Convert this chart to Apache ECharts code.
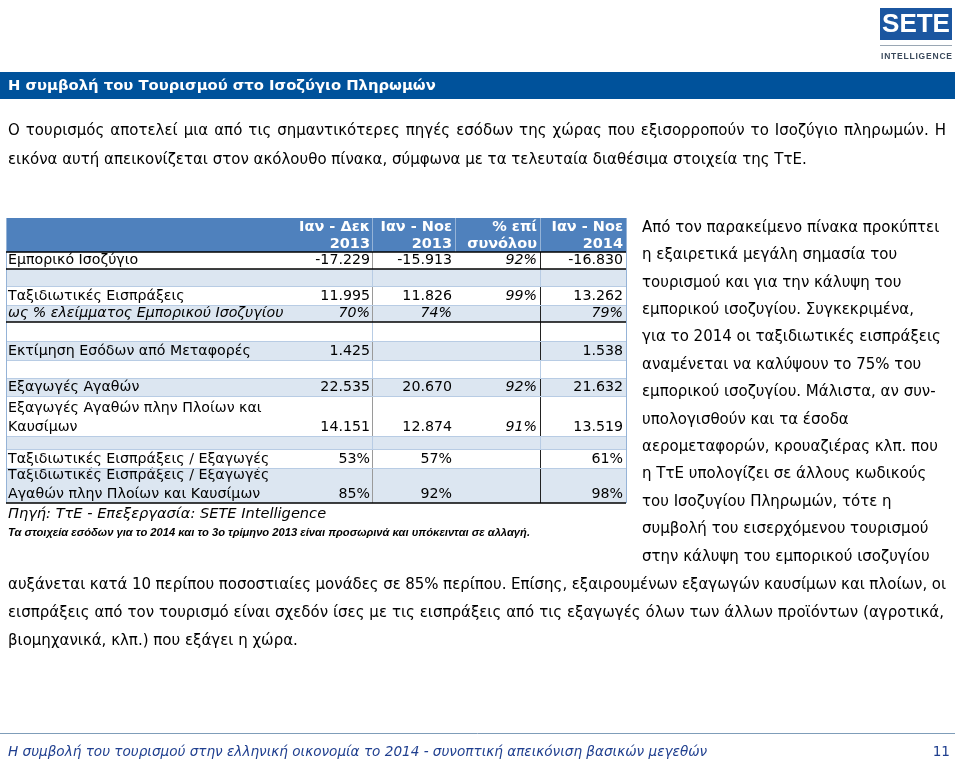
<!DOCTYPE html>
<html>
<head>
<meta charset="utf-8">
<script src="https://cdn.jsdelivr.net/npm/echarts@6/dist/echarts.min.js"></script>
<style>
  html, body { margin: 0; padding: 0; background: #fff; }
  #page { width: 960px; height: 765px; }
</style>
</head>
<body>
<div id="page"></div>
<script>
// table data (εκατ. ευρώ / ποσοστά)
var rowLabels = [
  'Εμπορικό Ισοζύγιο',
  '',
  'Ταξιδιωτικές Εισπράξεις',
  'ως % ελείμματος Εμπορικού Ισοζυγίου',
  '',
  'Εκτίμηση Εσόδων από Μεταφορές',
  '',
  'Εξαγωγές Αγαθών',
  'Εξαγωγές Αγαθών πλην Πλοίων και\nΚαυσίμων',
  '',
  'Ταξιδιωτικές Εισπράξεις / Εξαγωγές',
  'Ταξιδιωτικές Εισπράξεις / Εξαγωγές\nΑγαθών πλην Πλοίων και Καυσίμων'
];
var colHeaders = [['Ιαν - Δεκ', '2013'], ['Ιαν - Νοε', '2013'], ['% επί', 'συνόλου'], ['Ιαν - Νοε', '2014']];
var janDec2013 = [-17229, null, 11995, 70, null, 1425, null, 22535, 14151, null, 53, 85];
var janNov2013 = [-15913, null, 11826, 74, null, null, null, 20670, 12874, null, 57, 92];
var shareOfTotal = [92, null, 99, null, null, null, null, 92, 91, null, null, null];
var janNov2014 = [-16830, null, 13262, 79, null, 1538, null, 21632, 13519, null, 61, 98];
var percentRows = [3, 10, 11];

var introLines = [
  'Ο τουρισμός αποτελεί μια από τις σημαντικότερες πηγές εσόδων της χώρας που εξισορροπούν το Ισοζύγιο πληρωμών. Η',
  'εικόνα αυτή απεικονίζεται στον ακόλουθο πίνακα, σύμφωνα με τα τελευταία διαθέσιμα στοιχεία της ΤτΕ.'
];
var sideLines = [
  'Από τον παρακείμενο πίνακα προκύπτει',
  'η εξαιρετικά μεγάλη σημασία του',
  'τουρισμού και για την κάλυψη του',
  'εμπορικού ισοζυγίου. Συγκεκριμένα,',
  'για το 2014 οι ταξιδιωτικές εισπράξεις',
  'αναμένεται να καλύψουν το 75% του',
  'εμπορικού ισοζυγίου. Μάλιστα, αν συν-',
  'υπολογισθούν και τα έσοδα',
  'αερομεταφορών, κρουαζιέρας κλπ. που',
  'η ΤτΕ υπολογίζει σε άλλους κωδικούς',
  'του Ισοζυγίου Πληρωμών, τότε η',
  'συμβολή του εισερχόμενου τουρισμού',
  'στην κάλυψη του εμπορικού ισοζυγίου'
];
var bottomLines = [
  'αυξάνεται κατά 10 περίπου ποσοστιαίες μονάδες σε 85% περίπου. Επίσης, εξαιρουμένων εξαγωγών καυσίμων και πλοίων, οι',
  'εισπράξεις από τον τουρισμό είναι σχεδόν ίσες με τις εισπράξεις από τις εξαγωγές όλων των άλλων προϊόντων (αγροτικά,',
  'βιομηχανικά, κλπ.) που εξάγει η χώρα.'
];

// layout
var FONT = '"DejaVu Sans", Verdana, sans-serif';
var ARIAL = '"Liberation Sans", Arial, sans-serif';
var tLeft = 6, tRight = 626;
var headTop = 218, headBottom = 252;
var rowHeights = [17, 17, 19, 17, 19, 19, 18, 18, 40, 13, 19, 35];
var colAnchor = [370, 452, 537, 623];
var colLines = [372, 455, 540];
var thickAfter = [0, 3, 11];
var emptyRows = [1, 4, 6, 9];

var measureCtx = document.createElement('canvas').getContext('2d');

function fmt(v, pct) {
  if (v == null) return '';
  if (pct) return v + '%';
  var s = Math.abs(v).toString();
  var out = s.length > 3 ? s.slice(0, s.length - 3) + '.' + s.slice(s.length - 3) : s;
  return (v < 0 ? '-' : '') + out;
}

function fontOf(opt) {
  return (opt.italic ? 'italic ' : '') + (opt.bold ? 'bold ' : '') + (opt.size || 14) + 'px ' + (opt.family || FONT);
}

function txt(x, y, text, opt) {
  opt = opt || {};
  return {
    type: 'text', x: x, y: y, silent: true,
    style: {
      text: text, font: fontOf(opt), fill: opt.color || '#000',
      align: opt.align || 'left', textAlign: opt.align || 'left',
      verticalAlign: 'middle', textVerticalAlign: 'middle'
    }
  };
}
// justified line: words spread between x and right
function justified(x, right, y, text, opt) {
  measureCtx.font = fontOf(opt);
  var words = text.split(' ');
  var total = 0;
  words.forEach(function (w) { total += measureCtx.measureText(w).width; });
  var gap = (right - x - total) / (words.length - 1);
  var cx = x, out = [];
  words.forEach(function (w) {
    out.push(txt(cx, y, w, opt));
    cx += measureCtx.measureText(w).width + gap;
  });
  return out;
}
// spaced letters across a width
function spaced(x, right, y, text, opt) {
  measureCtx.font = fontOf(opt);
  var chars = text.split('');
  var total = 0;
  chars.forEach(function (ch) { total += measureCtx.measureText(ch).width; });
  var gap = (right - x - total) / (chars.length - 1);
  var cx = x, out = [];
  chars.forEach(function (ch) {
    out.push(txt(cx, y, ch, opt));
    cx += measureCtx.measureText(ch).width + gap;
  });
  return out;
}
function rect(x, y, w, h, fill) {
  return { type: 'rect', silent: true, shape: { x: x, y: y, width: w, height: h }, style: { fill: fill } };
}
function line(x1, y1, x2, y2, color, width) {
  return { type: 'line', silent: true, shape: { x1: x1, y1: y1, x2: x2, y2: y2 }, style: { stroke: color, lineWidth: width || 1 } };
}

var els = [];

// logo
els.push(rect(880, 8, 72, 32, '#1B56A0'));
els.push(txt(916, 25, 'SETE', { size: 26, bold: true, color: '#fff', align: 'center', family: ARIAL }));
els.push(line(880, 45.5, 952, 45.5, '#9aa7b4', 1));
els = els.concat(spaced(881, 952, 57, 'INTELLIGENCE', { size: 8.5, bold: true, color: '#3b4a5c', family: ARIAL }));

// title band
els.push(rect(0, 72, 955, 27, '#00529B'));
els.push(txt(8, 86, 'Η συμβολή του Τουρισμού στο Ισοζύγιο Πληρωμών', { size: 14.8, bold: true, color: '#fff' }));

els = els.concat(justified(8, 946, 131, introLines[0], { size: 15 }));
els.push(txt(8, 160, introLines[1], { size: 15 }));

// table header
els.push(rect(tLeft, headTop, tRight - tLeft, headBottom - headTop, '#4F81BD'));
colLines.forEach(function (x) {
  els.push(line(x + 0.5, headTop, x + 0.5, headBottom, '#95B3D7', 1));
});
colHeaders.forEach(function (h, c) {
  els.push(txt(colAnchor[c], 227, h[0], { bold: true, color: '#fff', align: 'right', size: 14.5 }));
  els.push(txt(colAnchor[c], 244, h[1], { bold: true, color: '#fff', align: 'right', size: 14.5 }));
});

// table body
var cols = [janDec2013, janNov2013, shareOfTotal, janNov2014];
var y = headBottom;
var rowBottoms = [];
rowLabels.forEach(function (label, r) {
  var h = rowHeights[r];
  var bottom = y + h;
  rowBottoms.push(bottom);
  els.push(rect(tLeft, y, tRight - tLeft, h, r % 2 === 0 ? '#ffffff' : '#DCE6F1'));
  var empty = emptyRows.indexOf(r) >= 0;
  els.push(line(372.5, y, 372.5, bottom, empty ? '#B8CCE4' : '#9a9a9a', 1));
  els.push(line(540.5, y, 540.5, bottom, empty && r !== 4 ? '#B8CCE4' : '#222', 1));
  var pct = percentRows.indexOf(r) >= 0;
  var italicRow = r === 3;
  var parts = label.split('\n');
  parts.forEach(function (p, i) {
    els.push(txt(8, bottom - 9 - (parts.length - 1 - i) * 19, p, { italic: italicRow, size: 14.2 }));
  });
  cols.forEach(function (col, c) {
    var v = col[r];
    if (v == null) return;
    els.push(txt(colAnchor[c], bottom - 9, fmt(v, pct || c === 2),
      { italic: italicRow || c === 2, align: 'right', size: 14.2 }));
  });
  y = bottom;
});
// row borders
rowBottoms.forEach(function (b, r) {
  if (thickAfter.indexOf(r) < 0) els.push(line(tLeft, b + 0.5, tRight, b + 0.5, '#B8CCE4', 1));
});
var tBottom = rowBottoms[rowBottoms.length - 1];
els.push(line(tLeft + 0.5, headTop, tLeft + 0.5, tBottom, '#95B3D7', 1));
els.push(line(tRight + 0.5, headTop, tRight + 0.5, tBottom, '#95B3D7', 1));
els.push(line(tLeft, headBottom, tRight, headBottom, '#000', 1.5));
thickAfter.forEach(function (r) {
  els.push(line(tLeft, rowBottoms[r], tRight, rowBottoms[r], '#000', 1.5));
});

els.push(txt(8, 514, 'Πηγή: ΤτΕ - Επεξεργασία: SETE Intelligence', { italic: true, size: 14.6 }));
els.push(txt(8, 533, 'Τα στοιχεία εσόδων για το 2014 και το 3ο τρίμηνο 2013 είναι προσωρινά και υπόκεινται σε αλλαγή.',
  { italic: true, bold: true, size: 11.2, family: ARIAL }));

sideLines.forEach(function (l, i) {
  els.push(txt(642, 228 + i * 27.4, l, { size: 15 }));
});
els = els.concat(justified(8, 946, 585, bottomLines[0], { size: 15 }));
els = els.concat(justified(8, 944, 613, bottomLines[1], { size: 15 }));
els.push(txt(8, 641, bottomLines[2], { size: 15 }));

// footer
els.push(line(0, 733.5, 955, 733.5, '#7F9DB9', 1));
els.push(txt(8, 752, 'Η συμβολή του τουρισμού στην ελληνική οικονομία το 2014 - συνοπτική απεικόνιση βασικών μεγεθών',
  { italic: true, size: 13.6, color: '#1F3F8F' }));
els.push(txt(950, 752, '11', { size: 13.6, color: '#1F3F8F', align: 'right' }));

var chart = echarts.init(document.getElementById('page'), null, { renderer: 'canvas' });
chart.setOption({
  animation: false,
  backgroundColor: '#fff',
  graphic: { elements: els }
});
</script>
</body>
</html>
